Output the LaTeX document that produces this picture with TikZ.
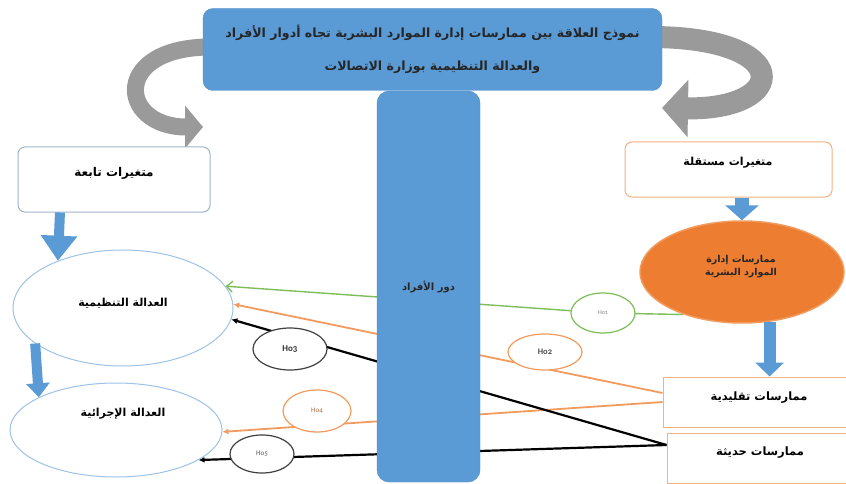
\documentclass[tikz,border=0pt]{standalone}
\usepackage{fontspec}
\usetikzlibrary{arrows.meta,shapes.geometric,calc}
\newfontfamily\arfont[Script=Arabic]{DejaVu Sans}
\newfontfamily\hofont[Numbers=OldStyle]{Carlito}
\TeXXeTstate=1
\definecolor{blu}{HTML}{5B9BD5}
\definecolor{bluedge}{HTML}{4F8ECB}
\definecolor{grayarr}{HTML}{9A9A9A}
\definecolor{ellblue}{HTML}{9DC3E6}
\definecolor{boxblue}{HTML}{9FB4CC}
\definecolor{lorange}{HTML}{F4B183}
\definecolor{dorange}{HTML}{ED7D31}
\definecolor{lineorange}{HTML}{F19B5E}
\definecolor{linegreen}{HTML}{7EBE5A}
\definecolor{hogray}{HTML}{404040}
\pgfdeclarelayer{bg}
\pgfsetlayers{bg,main}
\tikzset{
  artext/.style={font=\arfont\bfseries\fontsize{#1}{13}\selectfont, text=black, align=center},
  artext/.default=11,
  titlebox/.style={draw=bluedge, fill=blu, rounded corners=10pt, minimum width=459pt, minimum height=82pt, inner sep=0pt,
     font=\arfont\bfseries\fontsize{12.6}{33}\selectfont, text=black!85, align=center},
  barbox/.style={draw=bluedge, fill=blu, rounded corners=12pt, minimum width=103pt, minimum height=391pt, inner sep=0pt,
     font=\arfont\bfseries\fontsize{10}{12}\selectfont, text=black!85},
  varbox/.style={draw=#1, fill=white, rounded corners=7pt, line width=1pt, inner sep=0pt},
  plainbox/.style={draw=lorange, fill=white, line width=1pt, inner sep=0pt},
  justell/.style={ellipse, draw=ellblue, fill=white, line width=1pt, inner sep=0pt},
  hrmell/.style={ellipse, draw=lineorange, fill=dorange, line width=1.5pt, inner sep=0pt},
  hoell/.style={ellipse, draw=#1, fill=white, line width=1.2pt, inner sep=0pt},
  grayarrow/.style={draw=grayarr},
  blockarr/.style={draw=blu, line width=#1},
  gline/.style={draw=linegreen, line width=1.4pt, -{Straight Barb[length=6pt,width=11pt]}},
  oline/.style={draw=lineorange, line width=1.8pt, -{Latex[length=6pt,width=6pt]}},
  bline/.style={draw=black, line width=2.2pt, -{Latex[length=6pt,width=6pt]}},
}
\begin{document}
\begin{tikzpicture}[x=1pt,y=-1pt]
\useasboundingbox (0,0) rectangle (846,484);
\begin{pgfonlayer}{bg}
\fill[white] (0,0) rectangle (846,484);
\end{pgfonlayer}

% curved gray arrows
\draw[grayarrow, line width=17pt, -{Triangle[length=18pt,width=42pt]}]
  (215,47) .. controls (110,45) and (118,127) .. (203,127);
\draw[grayarrow, line width=22pt, -{Triangle[length=26pt,width=56pt]}]
  (650,37) .. controls (795,37) and (790,110) .. (662,108);

% title
\node[titlebox] (title) at (432.5,49.5)
  {\beginR نموذج العلاقة بين ممارسات إدارة الموارد البشرية تجاه أدوار الأفراد\endR\\\beginR والعدالة التنظيمية بوزارة الاتصالات\endR};

% variable boxes
\node[varbox=boxblue, minimum width=192pt, minimum height=65pt] (dep) at (114,179.5) {};
\node[artext=12] (deptxt) at (114,173) {\beginR متغيرات تابعة\endR};
\node[varbox=lorange, minimum width=207pt, minimum height=55pt] (indep) at (728.5,169.5) {};
\node[artext=11] (indeptxt) at (728,163) {\beginR متغيرات مستقلة\endR};

% ellipses
\node[justell, minimum width=220pt, minimum height=116pt] (oj) at (123,308) {};
\node[artext=11] (ojtxt) at (123,303) {\beginR العدالة التنظيمية\endR};
\node[justell, minimum width=212pt, minimum height=94pt] (aj) at (116,430) {};
\node[artext=11] (ajtxt) at (123,414) {\beginR العدالة الإجرائية\endR};
\node[hrmell, minimum width=204pt, minimum height=102pt] (hrm) at (742,272) {};
\node[artext=9.5, text=black!85] (hrmtxt) at (741,267) {\beginR ممارسات إدارة\endR\\\beginR الموارد البشرية\endR};

% practice boxes
\node[plainbox, minimum width=189pt, minimum height=50pt] (tq) at (757.5,402) {};
\node[artext=11.5] (tqtxt) at (759,398) {\beginR ممارسات تقليدية\endR};
\node[plainbox, minimum width=185pt, minimum height=50pt] (td) at (759.5,458) {};
\node[artext=11.5] (tdtxt) at (760,453) {\beginR ممارسات حديثة\endR};

% blue block arrows
\draw[blockarr=10pt, -{Triangle[length=25pt,width=35pt]}, blu]
  ($(dep.south west)!0.22!(dep.south east)$) -- (oj.144);
\draw[blockarr=10pt, -{Triangle[length=14pt,width=23pt]}, blu]
  (oj.202.7) -- (aj.157.3);
\draw[blockarr=14pt, -{Triangle[length=15pt,width=33pt]}, blu]
  (indep.south -| hrm.north) -- (hrm.north);
\draw[blockarr=12pt, -{Triangle[length=14pt,width=28pt]}, blu]
  (hrm.-61) -- (hrm.-61 |- tq.north);

% hypothesis ellipses
\node[hoell=linegreen, minimum width=64pt, minimum height=40pt, font=\hofont\fontsize{6}{7}\selectfont, text=gray] (ho1) at (603,313) {Ho1};
\node[hoell=lineorange, minimum width=74pt, minimum height=36pt, font=\hofont\bfseries\fontsize{8.5}{9}\selectfont, text=black!70] (ho2) at (545,352) {Ho2};
\node[hoell=hogray, minimum width=74pt, minimum height=42pt, font=\hofont\bfseries\fontsize{9}{10}\selectfont, text=black!80] (ho3) at (290,349) {Ho3};
\node[hoell=lineorange, minimum width=68pt, minimum height=42pt, font=\hofont\fontsize{7}{8}\selectfont, text=lineorange!70!black] (ho4) at (317,411) {Ho4};
\node[hoell=hogray, minimum width=64pt, minimum height=38pt, font=\hofont\fontsize{7}{8}\selectfont, text=black!65] (ho5) at (262,454) {Ho5};

% connectors (behind the bar)
\begin{pgfonlayer}{bg}
\draw[gline] (hrm.216.7) -- (ho1.center) -- (oj.12);
\draw[oline] ([yshift=9pt]tq.west) -- (oj.2.6);
\draw[oline] (tq.west) -- (aj.-1.7);
\draw[bline] ([yshift=13pt]td.west) -- (oj.-6.3);
\draw[bline] ([yshift=13pt]td.west) -- (aj.-20.2);
\end{pgfonlayer}

% central bar
\node[barbox] (bar) at (428.5,286.5) {\beginR دور الأفراد\endR};
\end{tikzpicture}
\end{document}
